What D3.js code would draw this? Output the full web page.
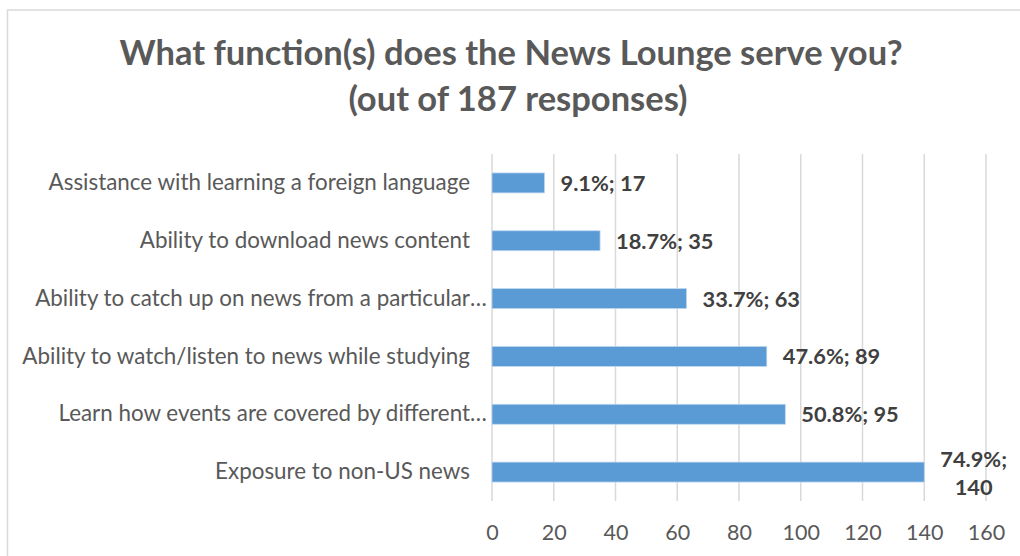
<!DOCTYPE html>
<html>
<head>
<meta charset="utf-8">
<script src="https://cdn.jsdelivr.net/npm/d3@7"></script>
<style>
  html, body { margin: 0; padding: 0; background: #fff; }
  svg { display: block; }
  text { font-family: Lato, "Open Sans", sans-serif; }
</style>
</head>
<body>
<svg id="chart" width="1020" height="556"></svg>
<script>
// Survey answers, top row first
const categories = [
  "Assistance with learning a foreign language",
  "Ability to download news content",
  "Ability to catch up on news from a particular\u2026",
  "Ability to watch/listen to news while studying",
  "Learn how events are covered by different\u2026",
  "Exposure to non-US news"
];
const counts = [17, 35, 63, 89, 95, 140];
const percents = ["9.1%", "18.7%", "33.7%", "47.6%", "50.8%", "74.9%"];
const xTicks = [0, 20, 40, 60, 80, 100, 120, 140, 160];
const titleLines = [
  "What function(s) does the News Lounge serve you?",
  "(out of 187 responses)"
];

const W = 1020, H = 556;
const margin = { left: 492, right: 34, top: 154, bottom: 55 };
const svg = d3.select("#chart");

// outer chart frame (runs off the right and bottom edges)
svg.append("rect")
  .attr("x", 7.5).attr("y", 10)
  .attr("width", W + 10).attr("height", H + 10)
  .attr("fill", "none")
  .attr("stroke", "#d9d9d9")
  .attr("stroke-width", 1.5);

// title
svg.append("g").selectAll("text")
  .data(titleLines)
  .join("text")
  .attr("x", (d, i) => i === 0 ? 511 : 518)
  .attr("y", (d, i) => 65 + i * 46)
  .attr("text-anchor", "middle")
  .attr("font-size", 34.5)
  .attr("font-weight", 700)
  .attr("fill", "#595959")
  .text(d => d);

const x = d3.scaleLinear()
  .domain([0, 160])
  .range([margin.left, W - margin.right]);

const y = d3.scaleBand()
  .domain(categories)
  .range([margin.top, H - margin.bottom])
  .paddingInner(0.655)
  .paddingOuter(0.3275);

// vertical gridlines
svg.append("g")
  .selectAll("line")
  .data(xTicks)
  .join("line")
  .attr("x1", d => x(d)).attr("x2", d => x(d))
  .attr("y1", margin.top).attr("y2", H - margin.bottom)
  .attr("stroke", "#d9d9d9")
  .attr("stroke-width", 1.5);

// x axis labels
const xAxis = d3.axisBottom(x)
  .tickValues(xTicks)
  .tickSize(0)
  .tickPadding(0);
const gx = svg.append("g")
  .attr("transform", `translate(0, ${H - margin.bottom})`)
  .call(xAxis);
gx.select(".domain").remove();
gx.selectAll("text")
  .attr("y", 0)
  .attr("dy", 39)
  .attr("font-size", 21.5)
  .attr("fill", "#595959")
  .style("font-family", "Lato, 'Open Sans', sans-serif");

// category labels; a trailing ellipsis hangs past the right alignment edge
const yAxis = d3.axisLeft(y).tickSize(0).tickPadding(0);
const gy = svg.append("g")
  .attr("transform", `translate(${margin.left - 22}, 0)`)
  .call(yAxis);
gy.select(".domain").remove();
gy.selectAll(".tick").each(function (d) {
  const tick = d3.select(this);
  const txt = tick.select("text")
    .attr("dy", "0.32em")
    .attr("font-size", 22.4)
    .attr("fill", "#595959")
    .style("font-family", "Lato, 'Open Sans', sans-serif");
  if (d.endsWith("\u2026")) {
    txt.text(d.slice(0, -1));
    tick.append("text")
      .attr("x", 0)
      .attr("dy", "0.32em")
      .attr("text-anchor", "start")
      .attr("font-size", 22.4)
      .attr("fill", "#595959")
      .style("font-family", "Lato, 'Open Sans', sans-serif")
      .text("\u2026");
  }
});

// bars
svg.append("g")
  .selectAll("rect")
  .data(counts)
  .join("rect")
  .attr("x", x(0))
  .attr("y", (d, i) => y(categories[i]))
  .attr("width", d => x(d) - x(0))
  .attr("height", y.bandwidth())
  .attr("fill", "#5b9bd5")
  .attr("stroke", "#bdd7ee")
  .attr("stroke-width", 0.75);

// data labels "pct; count", wrapped onto two lines when they would leave the chart
const labelG = svg.append("g")
  .attr("font-size", 21.8)
  .attr("font-weight", 700)
  .attr("fill", "#404040");

counts.forEach((v, i) => {
  const cy = y(categories[i]) + y.bandwidth() / 2;
  const left = x(v) + 16;
  const full = percents[i] + "; " + v;
  const t = labelG.append("text")
    .attr("x", left)
    .attr("y", cy + 8)
    .text(full);
  const w = t.node().getComputedTextLength();
  if (left + w > W - 8) {
    t.remove();
    const lines = [percents[i] + ";", String(v)];
    const widths = lines.map(s => {
      const n = labelG.append("text").text(s);
      const lw = n.node().getComputedTextLength();
      n.remove();
      return lw;
    });
    const bw = d3.max(widths);
    labelG.selectAll(null)
      .data(lines)
      .join("text")
      .attr("x", left + bw / 2)
      .attr("y", (d, k) => cy - 5 + k * 28)
      .attr("text-anchor", "middle")
      .text(d => d);
  }
});
</script>
</body>
</html>
